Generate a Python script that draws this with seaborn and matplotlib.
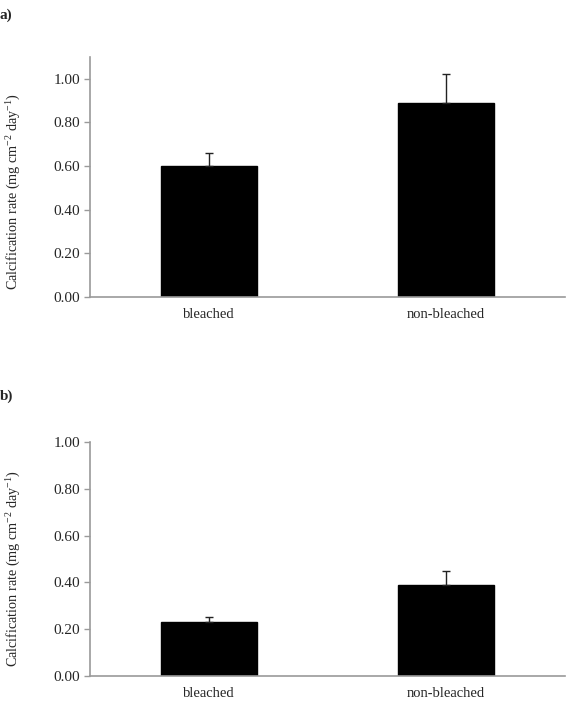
import matplotlib
matplotlib.use("Agg")
import matplotlib.pyplot as plt
import seaborn as sns

# Values
categories = ["bleached", "non-bleached"]
rate_a = [0.60, 0.89]
err_a = [0.06, 0.13]
rate_b = [0.23, 0.39]
err_b = [0.02, 0.06]
yticks = [0.0, 0.2, 0.4, 0.6, 0.8, 1.0]

sns.set_style("white")
plt.rcParams["font.family"] = ["Liberation Serif", "DejaVu Serif"]
plt.rcParams["mathtext.fontset"] = "custom"
plt.rcParams["mathtext.rm"] = "Liberation Serif"

AXIS_GREY = "#9a9a9a"


def draw_panel(ax, values, errors, ytop, label_y):
    sns.barplot(x=categories, y=values, color="black", width=0.405,
                saturation=1, edgecolor="black", ax=ax)
    ax.errorbar(range(len(categories)), values, yerr=[[0] * len(errors), errors],
                fmt="none", ecolor="#222222", elinewidth=1.0, capsize=3, capthick=1.0)
    ax.set_xlim(-0.5, len(categories) - 0.5)
    ax.set_ylim(0, ytop)
    ax.set_yticks(yticks)
    ax.set_yticklabels([f"{t:.2f}" for t in yticks], fontsize=11)
    ax.set_xticks(range(len(categories)))
    ax.set_xticklabels(categories, fontsize=10.5)
    ax.set_xticks([-0.5, 0.5, 1.5], minor=True)
    ax.tick_params(axis="x", which="major", length=0, pad=8)
    ax.tick_params(axis="x", which="minor", length=4, direction="out", color=AXIS_GREY, width=1)
    ax.tick_params(axis="y", length=4, direction="out", color=AXIS_GREY, width=1, pad=3, left=True)
    for side in ["top", "right"]:
        ax.spines[side].set_visible(False)
    for side in ["left", "bottom"]:
        ax.spines[side].set_color(AXIS_GREY)
        ax.spines[side].set_linewidth(1.2)
    ax.set_ylabel(r"Calcification rate (mg cm$^{\mathregular{-2}}$ day$^{\mathregular{-1}}$)",
                  fontsize=10.2)
    ax.yaxis.set_label_coords(-0.143, label_y)
    ax.set_xlabel("")


fig = plt.figure(figsize=(5.79, 7.16), dpi=100)
ax_a = fig.add_axes([0.1554, 0.5852, 0.8204, 0.3352])
ax_b = fig.add_axes([0.1554, 0.0559, 0.8204, 0.3268])

draw_panel(ax_a, rate_a, err_a, 1.1, 0.44)
draw_panel(ax_b, rate_b, err_b, 1.0, 0.46)

fig.text(0.0, 0.979, "a)", fontsize=11, fontweight="bold", va="center", ha="left")
fig.text(0.0, 0.447, "b)", fontsize=11, fontweight="bold", va="center", ha="left")

fig.savefig("out.png", dpi=100)
